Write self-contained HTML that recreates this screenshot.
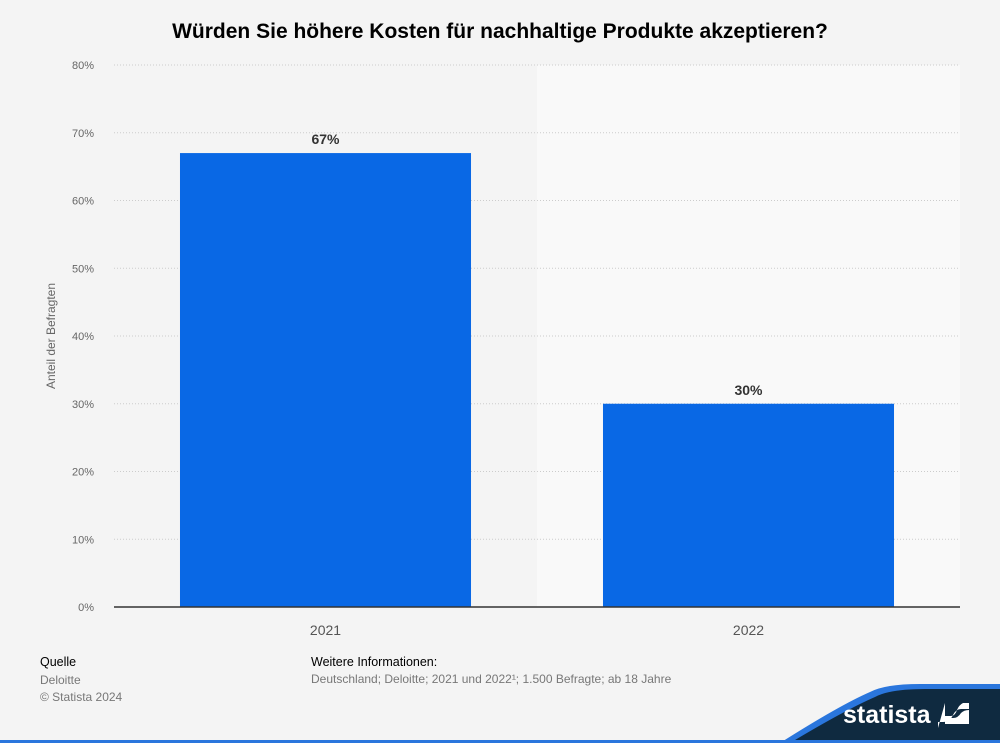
<!DOCTYPE html>
<html><head><meta charset="utf-8"><style>
body{margin:0;width:1000px;height:743px;background:#f4f4f4;font-family:"Liberation Sans",sans-serif;overflow:hidden;position:relative}
.t{position:absolute}
</style></head><body>
<div class="t" style="left:0;width:1000px;top:20px;text-align:center;font-weight:bold;font-size:21px;color:#000">Würden Sie höhere Kosten für nachhaltige Produkte akzeptieren?</div>
<svg id="c" class="t" style="left:0;top:0" width="1000" height="743"></svg>
<div class="t" style="left:40px;top:655px;font-size:12.5px;color:#000">Quelle</div>
<div class="t" style="left:40px;top:672px;font-size:12px;color:#777;line-height:17px">Deloitte<br>© Statista 2024</div>
<div class="t" style="left:311px;top:655px;font-size:12.5px;color:#000">Weitere Informationen:</div>
<div class="t" style="left:311px;top:672px;font-size:12px;color:#777">Deutschland; Deloitte; 2021 und 2022¹; 1.500 Befragte; ab 18 Jahre</div>
<svg class="t" style="left:0;top:680px" width="1000" height="63">
<path d="M780 63 Q840 25 870 12 Q885 4 920 4 L1000 4 L1000 63 Z" fill="#2a76dd"/>
<path d="M790 63 Q845 30 875 17 Q890 9 925 9 L1000 9 L1000 63 Z" fill="#0f2a40"/>
<rect x="0" y="60" width="1000" height="3" fill="#2a76dd"/>
<text x="843" y="43" font-family="Liberation Sans" font-weight="bold" font-size="25" fill="#fff">statista</text>
<path d="M945 23 h24 v6 h-8 q-5 0 -8 6 q-3 7 -10 7 h-5 v6 h-0 z M945 23 v13 h6 q4 0 6 -6 q2 -5 6 -7 z" fill="#fff"/>
<path d="M969 30 v14 h-24 v-6 h8 q5 0 8 -5 q3 -3 8 -3 z" fill="#fff"/>
</svg>
<script>
const categories=["2021","2022"];
const values=[67,30];
const ticks=[0,10,20,30,40,50,60,70,80];
const s=document.getElementById('c'),NS='http://www.w3.org/2000/svg';
const x0=114,x1=960,y0=607,yTop=65,max=80;
const y=v=>y0-(y0-yTop)*v/max;
const band=(x1-x0)/categories.length;
function mk(t,a,txt){const e=document.createElementNS(NS,t);for(const k in a)e.setAttribute(k,a[k]);if(txt!=null)e.textContent=txt;s.appendChild(e);return e;}
let bg=mk('rect',{x:x0+band,y:yTop,width:band,height:y0-yTop,fill:'#f9f9f9'});


ticks.forEach(v=>{
 if(v>0){let g=mk('line',{x1:x0,x2:x1,y1:y(v),y2:y(v),stroke:'#ccc','stroke-dasharray':'1,2'});
 
 }
 let l=mk('text',{x:94,y:y(v)+4,'text-anchor':'end','font-size':11,fill:'#666'},v+'%');
 
 
});
categories.forEach((c,i)=>{
 const bx=x0+band*i+band*0.156,bw=band*0.688;
 let r=mk('rect',{x:bx,y:y(values[i]),width:bw,height:y0-y(values[i]),fill:'#0968e5'});
 
 
 let vl=mk('text',{x:bx+bw/2,y:y(values[i])-9,'text-anchor':'middle','font-size':14,'font-weight':'bold',fill:'#333'},values[i]+'%');
 
 
 let xl=mk('text',{x:bx+bw/2,y:635,'text-anchor':'middle','font-size':14,fill:'#555'},c);
 
 
});
let ax=mk('line',{x1:x0,x2:x1,y1:y0,y2:y0,stroke:'#333','stroke-width':1.5});


let yt=mk('text',{x:0,y:0,transform:'translate(55,336) rotate(-90)','text-anchor':'middle','font-size':12,fill:'#666'},'Anteil der Befragten');


</script>
</body></html>
